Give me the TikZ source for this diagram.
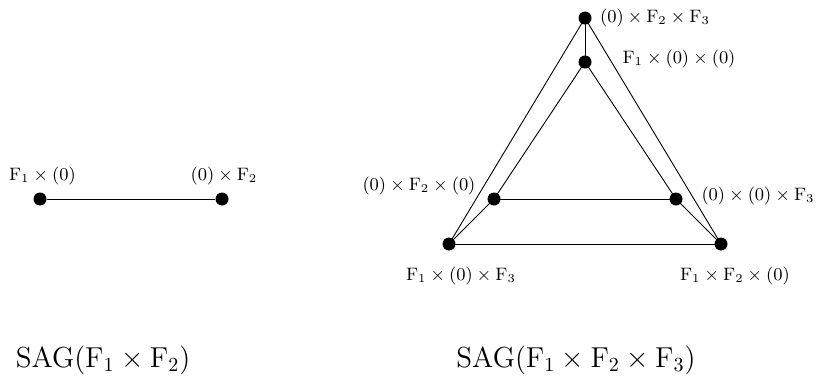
\documentclass[tikz,border=0pt]{standalone}
\newcommand{\Fq}{\mathrm{F}}
\tikzset{
  dot/.style={circle,fill=black,inner sep=0pt,minimum size=6.5pt},
  lbl/.style={anchor=base,inner sep=0pt,font=\fontsize{9}{11}\selectfont},
  captext/.style={anchor=base,inner sep=0pt,font=\fontsize{14.5}{17}\selectfont},
  link/.style={line width=0.45pt}
}
\begin{document}
\begin{tikzpicture}[x=1pt,y=1pt]
\useasboundingbox (0,0) rectangle (409.5,-188);
% left graph
\node[dot] (a) at (20,-99.5) {};
\node[dot] (b) at (111,-99.5) {};
\draw[link] (a) -- (b);
\node[lbl] (la) at (21.25,-90) {$\Fq_1 \times (0)$};
\node[lbl] (lb) at (112,-90) {$(0) \times \Fq_2$};
% right graph
\node[dot] (t) at (292.5,-9) {};
\node[dot] (it) at (292.5,-31) {};
\node[dot] (il) at (247,-99.5) {};
\node[dot] (ir) at (338,-99.5) {};
\node[dot] (bl) at (224.5,-122) {};
\node[dot] (br) at (360.5,-122) {};
\draw[link] (t.center) -- (it.center);
\draw[link] (t.center) -- (bl.center);
\draw[link] (t.center) -- (br.center);
\draw[link] (it.center) -- (il.center);
\draw[link] (it.center) -- (ir.center);
\draw[link] (il.center) -- (ir.center);
\draw[link] (il.center) -- (bl.center);
\draw[link] (ir.center) -- (br.center);
\draw[link] (bl.center) -- (br.center);
\node[lbl] (lt) at (327.5,-11) {$(0) \times \Fq_2 \times \Fq_3$};
\node[lbl] (lit) at (339.5,-31.5) {$\Fq_1 \times (0) \times (0)$};
\node[lbl] (lil) at (209.5,-95) {$(0) \times \Fq_2 \times (0)$};
\node[lbl] (lir) at (379,-100) {$(0) \times (0) \times \Fq_3$};
\node[lbl] (lbl) at (230.5,-140) {$\Fq_1 \times (0) \times \Fq_3$};
\node[lbl] (lbr) at (367.5,-140) {$\Fq_1 \times \Fq_2 \times (0)$};
% captions
\node[captext] (c1) at (51.5,-183.5) {SAG$(\Fq_1 \times \Fq_2)$};
\node[captext] (c2) at (288,-183.5) {SAG$(\Fq_1 \times \Fq_2 \times \Fq_3)$};
\end{tikzpicture}
\end{document}
